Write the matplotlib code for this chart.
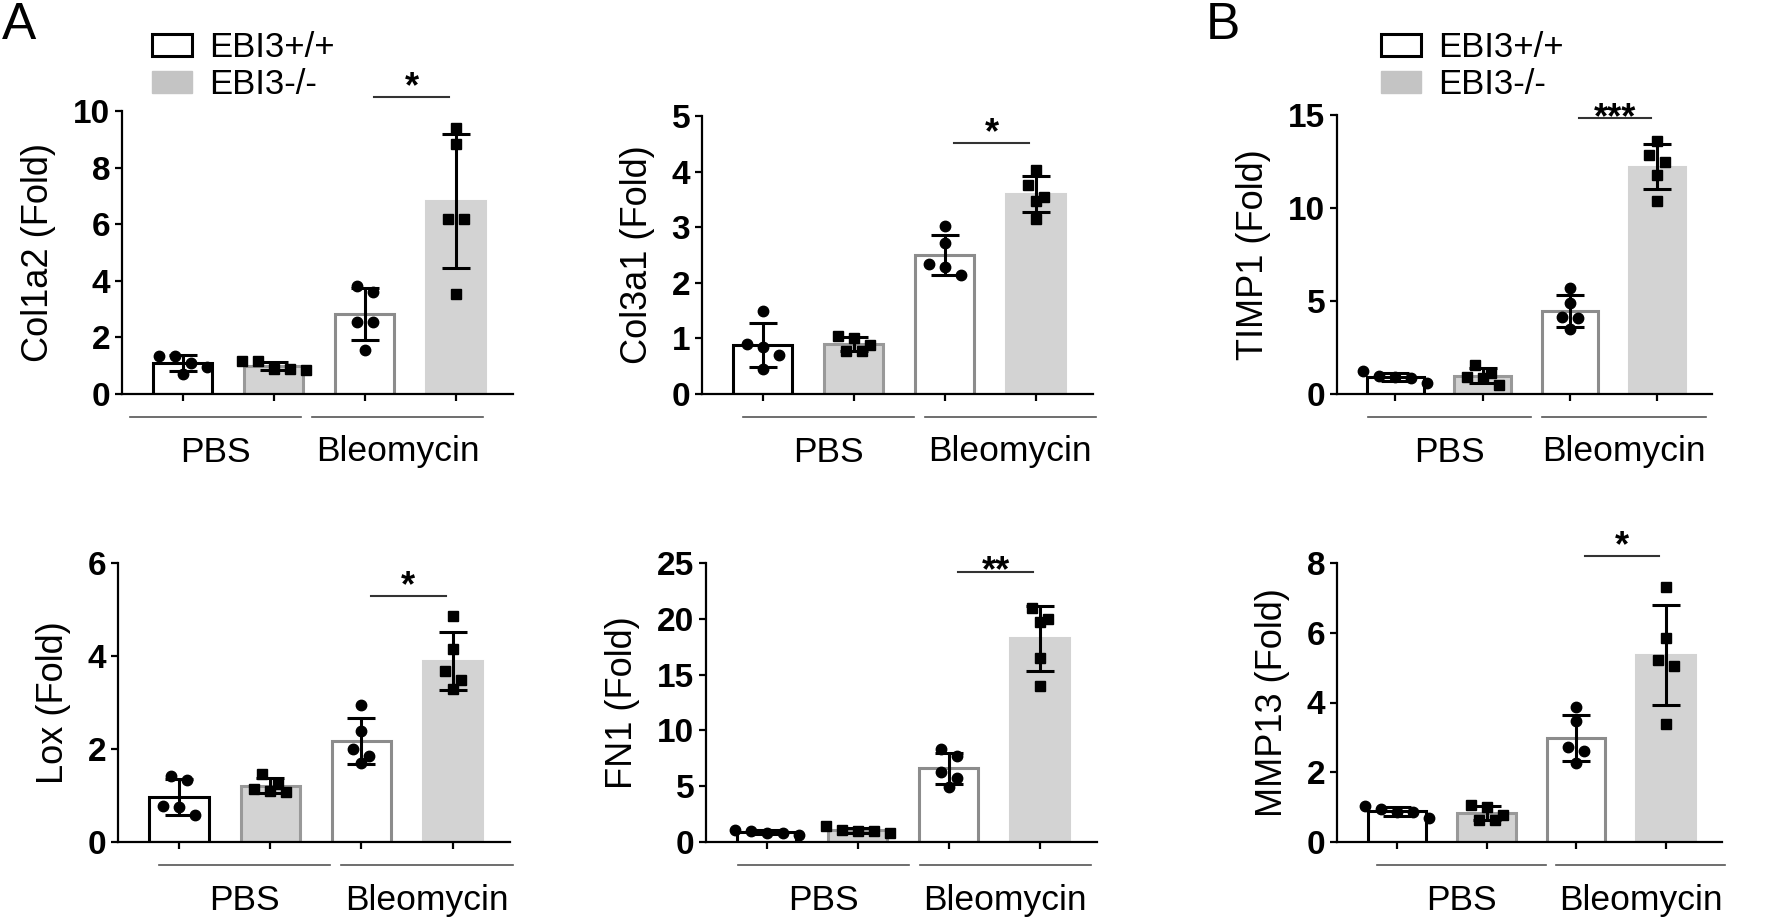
import matplotlib
matplotlib.use("Agg")
import matplotlib.pyplot as plt
import numpy as np
from matplotlib.patches import Patch
from matplotlib.transforms import offset_copy

plt.rcParams['font.family'] = ['Liberation Sans', 'DejaVu Sans']

# values, 5 mice per group
# order of groups: EBI3+/+ PBS, EBI3-/- PBS, EBI3+/+ Bleo, EBI3-/- Bleo
col1a2 = [[1.35, 1.35, 1.1, 0.95, 0.7],
          [1.15, 1.15, 0.9, 0.85, 0.9],
          [3.82, 3.62, 2.56, 2.56, 1.56],
          [9.41, 8.83, 6.18, 6.18, 3.54]]
col3a1 = [[1.5, 0.9, 0.85, 0.7, 0.45],
          [1.04, 1.0, 0.88, 0.78, 0.78],
          [3.03, 2.72, 2.34, 2.28, 2.14],
          [4.02, 3.75, 3.55, 3.48, 3.15]]
timp1 = [[1.22, 0.95, 0.9, 0.85, 0.6],
         [1.55, 1.15, 0.9, 0.85, 0.5],
         [5.7, 4.9, 4.15, 4.1, 3.5],
         [13.6, 12.85, 12.45, 11.75, 10.4]]
lox = [[1.43, 1.34, 0.78, 0.75, 0.57],
       [1.47, 1.25, 1.15, 1.1, 1.08],
       [2.95, 2.38, 2.0, 1.84, 1.7],
       [4.87, 4.15, 3.67, 3.48, 3.29]]
fn1 = [[1.1, 0.95, 0.85, 0.8, 0.6],
       [1.4, 1.1, 0.95, 0.95, 0.8],
       [8.35, 7.7, 6.3, 5.7, 4.9],
       [21.0, 20.0, 19.7, 16.5, 14.0]]
mmp13 = [[1.04, 0.95, 0.85, 0.85, 0.7],
         [1.07, 1.0, 0.78, 0.64, 0.64],
         [3.86, 3.46, 2.72, 2.62, 2.27],
         [7.31, 5.85, 5.21, 5.06, 3.37]]

ylabels = ["Col1a2 (Fold)", "Col3a1 (Fold)", "TIMP1 (Fold)",
           "Lox (Fold)", "FN1 (Fold)", "MMP13 (Fold)"]
ymax = [10, 5, 15, 6, 25, 8]
ystep = [2, 1, 5, 2, 5, 2]
stars = ["*", "*", "***", "*", "**", "*"]
star_y = [10.5, 4.51, 14.84, 5.29, 24.2, 8.2]
groups = ["PBS", "Bleomycin"]
legend_labels = ["EBI3+/+", "EBI3-/-"]

# axes boxes in pixels (left, top, right, bottom)
boxes = [(122, 111, 513, 394), (702, 116, 1093, 394), (1337, 115, 1712, 394),
         (118, 563, 510, 842), (706, 563, 1097, 842), (1337, 563, 1722, 842)]
grp_shift = [-0.3, 0.06, -0.04, 0.06, -0.04, 0.06]
legend_px = {0: 152, 2: 1381}

W, H = 1770, 921
face = ['white', '#d3d3d3', 'white', '#d3d3d3']
edge = ['black', '#999999', '#8c8c8c', '#d3d3d3']
mark = ['o', 's', 'o', 's']


def swarm(vals, px_y, step_px, thr_px):
    # spread points of similar height side by side, row by row
    order = np.argsort(vals)[::-1]
    offs = np.zeros(len(vals))
    rows = []
    for i in order:
        if rows and (vals[rows[-1][0]] - vals[i]) * px_y < thr_px:
            rows[-1].append(i)
        else:
            rows.append([i])
    for r in rows:
        n = len(r)
        for k, i in enumerate(r):
            offs[i] = (k - (n - 1) / 2) * step_px
    return offs


fig = plt.figure(figsize=(W / 100, H / 100), dpi=100)
data = [col1a2, col3a1, timp1, lox, fn1, mmp13]

for p, pts in enumerate(data):
    l, t, r, b = boxes[p]
    ax = fig.add_axes([l / W, 1 - b / H, (r - l) / W, (b - t) / H])
    x = np.arange(4)
    means = [np.mean(v) for v in pts]
    sds = [np.std(v, ddof=1) for v in pts]
    ax.bar(x, means, width=0.65, color=face, edgecolor=edge, linewidth=2.2, zorder=2)
    ax.set_xlim(-0.67, 3.63)
    ax.set_ylim(0, ymax[p])
    px_x = (r - l) / 4.3
    px_y = (b - t) / ymax[p]
    for i in range(4):
        v = np.array(pts[i])
        dx = swarm(v, px_y, 16, 12) / px_x
        ax.plot(x[i] + dx, v, linestyle='none', marker=mark[i], color='black',
                markersize=7.5, zorder=3, clip_on=False)
    ax.errorbar(x, means, yerr=sds, fmt='none', ecolor='black', elinewidth=2.2,
                capsize=10, capthick=2.2, zorder=4, clip_on=False)

    for s in ['top', 'right']:
        ax.spines[s].set_visible(False)
    for s in ['left', 'bottom']:
        ax.spines[s].set_linewidth(1.6)
    ax.set_xticks(x)
    ax.set_xticklabels([])
    ax.set_yticks(np.arange(0, ymax[p] + 0.01, ystep[p]))
    ax.tick_params(direction='out', length=5, width=1.6, labelsize=24)
    for lb in ax.get_yticklabels():
        lb.set_fontweight('bold')
    ax.set_ylabel(ylabels[p], fontsize=26, labelpad=12)

    # significance bar
    ax.plot([2.1, 2.93], [star_y[p], star_y[p]], color='#333333', lw=1.5, clip_on=False)
    dy = 0 if len(stars[p]) == 1 else -7
    ax.annotate(stars[p], (2.515, star_y[p]), xytext=(0, dy), textcoords='offset points',
                ha='center', va='baseline', fontsize=26, fontweight='bold',
                annotation_clip=False)

    # treatment group lines and labels below the axis
    lt = offset_copy(ax.get_xaxis_transform(), fig=fig, y=-23, units='dots')
    tt = offset_copy(ax.get_xaxis_transform(), fig=fig, y=-58, units='dots')
    for g, name in enumerate(groups):
        x0 = 2 * g - 0.28 + grp_shift[p]
        x1 = x0 + 1.88
        ax.plot([x0, x1], [0, 0], color='#555555', lw=1.2, transform=lt, clip_on=False)
        ax.text((x0 + x1) / 2, 0, name, transform=tt, ha='center', va='center', fontsize=25.5)

    if p in legend_px:
        handles = [Patch(facecolor='white', edgecolor='black', linewidth=2.2),
                   Patch(facecolor='#c4c4c4', edgecolor='#c4c4c4')]
        ax.legend(handles, legend_labels, loc='upper left',
                  bbox_to_anchor=((legend_px[p] - l) / (r - l), (b - 31) / (b - t)),
                  borderaxespad=0, borderpad=0, frameon=False, fontsize=25,
                  handlelength=1.15, handleheight=0.58, handletextpad=0.5,
                  labelspacing=0.12)

fig.text(2 / W, 1 - 1 / H, "A", fontsize=37, ha='left', va='top')
fig.text(1206 / W, 1 - 1 / H, "B", fontsize=37, ha='left', va='top')

fig.savefig("out.png", dpi=100)
